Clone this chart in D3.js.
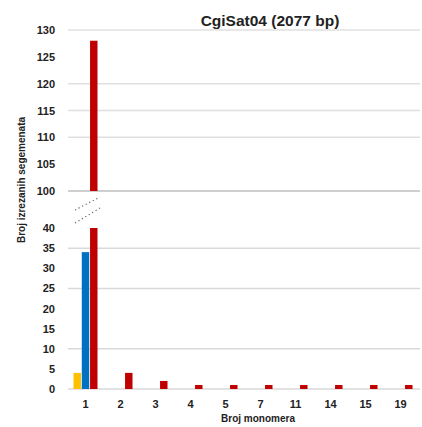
<!DOCTYPE html>
<html><head><meta charset="utf-8">
<script src="https://cdn.jsdelivr.net/npm/d3@7"></script>
<style>body{margin:0;background:#fff}svg{display:block}text{font-family:"Liberation Sans",Arial,sans-serif;font-weight:bold;fill:#222}</style>
</head><body>
<script>
const categories = ["1","2","3","4","5","7","11","14","15","19"];
const seriesNames = ["yellow","blue","red"];
const yellowValues = [4,0,0,0,0,0,0,0,0,0];
const blueValues = [34,0,0,0,0,0,0,0,0,0];
const redValues = [128,4,2,1,1,1,1,1,1,1];
const seriesColors = ["#FFC000","#0070C0","#C00000"];
const upperTicks = [100,105,110,115,120,125,130];
const upperGrid = [100,110,115,120,130];
const lowerTicks = [0,5,10,15,20,25,30,35,40];
const lowerGrid = [0,10,25,35];
const title = "CgiSat04 (2077 bp)";
const yTitle = "Broj izrezanih segemenata";
const xTitle = "Broj monomera";

const W=422,H=427;
const svg=d3.select("body").append("svg").attr("width",W).attr("height",H);
const x0=d3.scaleBand().domain(categories).range([68,418]).paddingInner(0.314).paddingOuter(0.157);
const x1=d3.scaleBand().domain(seriesNames).range([0,x0.bandwidth()]).paddingInner(0.1);
const yU=d3.scaleLinear().domain([100,130]).range([191,30]);
const yL=d3.scaleLinear().domain([0,40]).range([389,228]);

// gridlines
svg.append("g").selectAll("line").data(upperGrid).join("line")
  .attr("x1",68).attr("x2",420).attr("y1",d=>yU(d)).attr("y2",d=>yU(d))
  .attr("stroke",d=>d===100?"#cfcfcf":"#e0e0e0").attr("stroke-width",d=>d===100?2:1.5);
svg.append("g").selectAll("line").data(lowerGrid).join("line")
  .attr("x1",68).attr("x2",420).attr("y1",d=>yL(d)).attr("y2",d=>yL(d))
  .attr("stroke","#d9d9d9").attr("stroke-width",1.5);

// bars
const data=[yellowValues,blueValues,redValues];
data.forEach((vals,si)=>{
  const g=svg.append("g").attr("fill",seriesColors[si]);
  vals.forEach((v,ci)=>{
    if(v<=0) return;
    const x=x0(categories[ci])+x1(seriesNames[si]);
    const vl=Math.min(v,40);
    g.append("rect").attr("x",x).attr("width",x1.bandwidth())
      .attr("y",yL(vl)).attr("height",yL(0)-yL(vl));
    if(v>100){
      g.append("rect").attr("x",x).attr("width",x1.bandwidth())
        .attr("y",yU(v)).attr("height",yU(100)-yU(v));
    }
  });
});

// y tick labels
const axU=d3.axisLeft(yU).tickValues(upperTicks).tickSize(0).tickPadding(0);
const gU=svg.append("g").attr("transform","translate(55,0)").call(axU);
const axL=d3.axisLeft(yL).tickValues(lowerTicks).tickSize(0).tickPadding(0);
const gL=svg.append("g").attr("transform","translate(55,0)").call(axL);
[gU,gL].forEach(g=>{g.select(".domain").remove();g.selectAll("text").attr("font-size",11).attr("font-family","Liberation Sans, Arial, sans-serif").attr("font-weight","bold").attr("fill","#222");});

// x labels
const axX=d3.axisBottom(x0).tickSize(0).tickPadding(0);
const gX=svg.append("g").attr("transform","translate(0,400)").call(axX);
gX.select(".domain").remove();
gX.selectAll("text").attr("font-size",11).attr("font-family","Liberation Sans, Arial, sans-serif").attr("font-weight","bold").attr("fill","#222");

// break marks
[[75,210,100,197],[75,223,100,208]].forEach(p=>{
  svg.append("line").attr("x1",p[0]).attr("y1",p[1]).attr("x2",p[2]).attr("y2",p[3])
    .attr("stroke","#666").attr("stroke-width",1.2).attr("stroke-dasharray","1.2,2.8");
});

svg.append("text").attr("x",270).attr("y",26).attr("text-anchor","middle").attr("font-size",15.5).text(title);
svg.append("text").attr("transform","translate(25,180) rotate(-90)").attr("text-anchor","middle").attr("font-size",10).text(yTitle);
svg.append("text").attr("x",258).attr("y",422).attr("text-anchor","middle").attr("font-size",10).text(xTitle);
</script>
</body></html>
